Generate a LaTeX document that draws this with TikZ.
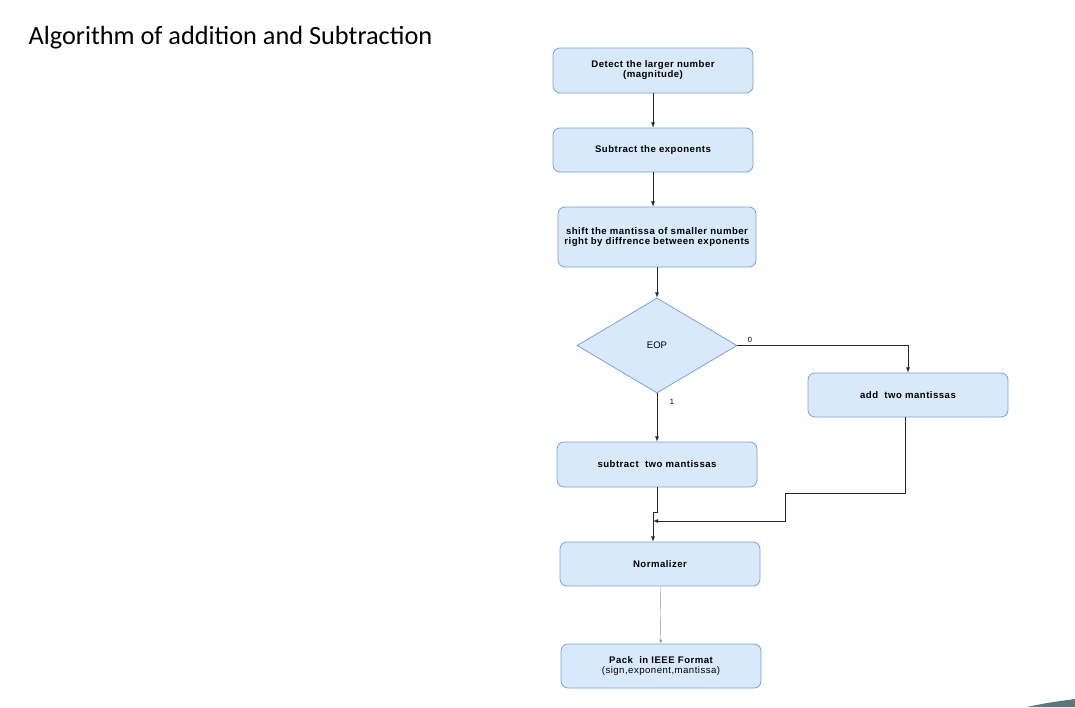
\documentclass[tikz,border=0pt]{standalone}
\usepackage{fontspec}
\setmainfont{Liberation Sans}
\newfontfamily\titlefont{Carlito}
\newfontfamily\boxfont[LetterSpace=5]{Liberation Sans}
\usetikzlibrary{shapes.geometric}
\definecolor{boxfill}{HTML}{DAE8FC}
\definecolor{boxline}{HTML}{7EA1D3}
\definecolor{wedgecol}{HTML}{5E777D}
\tikzset{
  stepbox/.style={draw=boxline,fill=boxfill,rounded corners=7pt,line width=0.8pt,
    minimum width=200pt,minimum height=45pt,align=center,inner sep=0pt,
    font=\boxfont\bfseries\fontsize{9.6}{10}\selectfont},
  decbox/.style={diamond,draw=boxline,fill=boxfill,line width=0.8pt,
    minimum width=160pt,minimum height=95pt,inner sep=0pt,aspect=1.68,
    font=\fontsize{9.5}{10}\selectfont},
  flow/.style={-latex,line width=0.8pt,black!85},
  tag/.style={font=\fontsize{7.5}{8}\selectfont}
}
\begin{document}
\begin{tikzpicture}[x=1pt,y=-1pt]
\useasboundingbox (0,0) rectangle (1075,707);
\node[anchor=base west,font=\titlefont\fontsize{26.3}{30}\selectfont] (title) at (25,44) {Algorithm of addition and Subtraction};
% steps
\node[stepbox] (detect) at (653,70.5) {Detect the larger number\\(magnitude)};
\node[stepbox,minimum height=44pt] (subexp) at (653,150) {Subtract the exponents};
\node[stepbox,minimum width=198pt,minimum height=60pt] (shift) at (657,237) {shift the mantissa of smaller number\\right by diffrence between exponents};
\node[decbox] (eop) at (657,345.5) {EOP};
\node[stepbox,minimum height=44pt] (addm) at (908,395) {add\ \ two mantissas};
\node[stepbox] (subm) at (657,464.5) {subtract\ \ two mantissas};
\node[stepbox,minimum height=44pt] (norm) at (660,564) {Normalizer};
\node[stepbox,minimum height=44pt] (pack) at (661,666) {Pack\ \ in IEEE Format\\\mdseries(sign,exponent,mantissa)};
\coordinate (jog) at (653,512);
\coordinate (bend) at (785,493);
\coordinate (merge) at (653,521);
% connectors
\draw[flow] (detect) -- (subexp);
\draw[flow] (subexp) -- (subexp |- shift.north);
\draw[flow] (shift) -- (eop);
\draw[flow] (eop.east) -| (addm.north);
\node[tag] (zero) at (750,340) {0};
\draw[flow] (eop.south) -- (subm.north);
\node[tag] (one) at (672,402) {1};
\draw[flow] (subm.south) |- (jog) -- (jog |- norm.north);
\draw[flow] ([xshift=-3pt]addm.south) |- (bend) |- (merge);
\draw[-latex,line width=0.4pt,black!45] (norm) -- (pack);
% corner
\fill[wedgecol] (1027,707) .. controls (1045,703) and (1060,701) .. (1075,699) -- (1075,707) -- cycle;
\end{tikzpicture}
\end{document}
